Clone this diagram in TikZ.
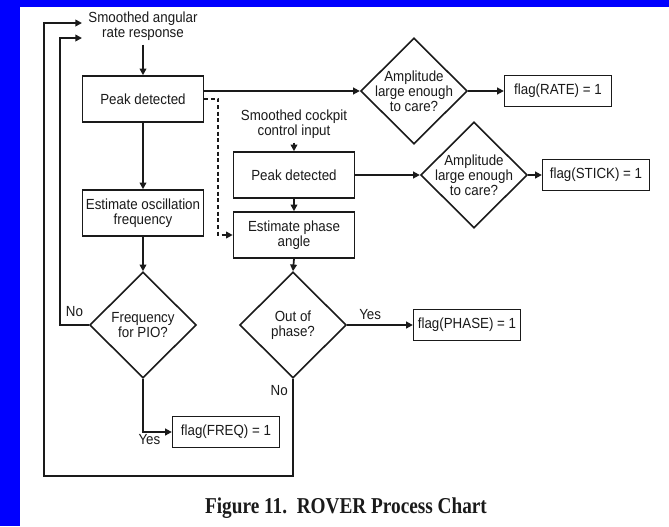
\documentclass[tikz,border=0pt]{standalone}
\usepackage{fontspec}
\setmainfont{Liberation Serif}
\setsansfont{Liberation Sans}[FakeStretch=0.91]
\newfontfamily\capfont{Liberation Serif}[FakeStretch=0.85]
\usepackage{xcolor}
\definecolor{roverBlue}{HTML}{0000FF}
\definecolor{roverInk}{HTML}{1A1A1A}
\usepackage{tikz}
\usetikzlibrary{arrows.meta, shapes.geometric, calc}

\begin{document}
\begin{tikzpicture}[
  x=0.75pt, y=-0.75pt,
  font=\sffamily\fontsize{11}{11.2}\selectfont,
  every node/.style = {text=roverInk},
  box/.style = {rectangle, draw=roverInk, line width=1.2pt,
                minimum width=90.75pt, minimum height=34.5pt,
                align=center, inner sep=2pt},
  flagbox/.style = {rectangle, draw=roverInk, line width=1.2pt,
                    minimum width=80pt, minimum height=23.25pt,
                    align=center, inner sep=1pt},
  decision/.style = {diamond, draw=roverInk, line width=1.2pt,
                     minimum width=80pt, minimum height=79.5pt,
                     inner sep=0pt},
  plain/.style = {align=center, inner sep=3pt},
  arrow/.style = {-{Triangle[length=5pt, width=5pt]},
                  line width=1.3pt, draw=roverInk},
  dasharrow/.style = {arrow, densely dashed, line width=1.4pt},
]
\useasboundingbox (0,0) rectangle (669,526);
\fill[roverBlue] (0,0) rectangle (669,526);
\fill[white] (20,7) rectangle (669,526);

% Angular rate branch
\node[plain] (srate) at (143,26) {Smoothed angular\\rate response};
\node[box] (pk1)  at (143,99)  {Peak detected};
\node[box] (est1) at (143,213) {Estimate oscillation\\frequency};
\node[decision, label={[align=center]center:Frequency\\for PIO?}]
      (freq) at (143,325) {};
\node[flagbox] (ffreq) at (226,432) {flag(FREQ) = 1};

% Amplitude check on rate
\node[decision, label={[align=center]center:Amplitude\\large enough\\to care?}]
      (amp1) at (414,91) {};
\node[flagbox] (frate) at (558,91) {flag(RATE) = 1};

% Cockpit input branch
\node[plain] (scock) at (294,124) {Smoothed cockpit\\control input};
\node[box] (pk2)  at (294,175) {Peak detected};
\node[box] (est2) at (294,235) {Estimate phase\\angle};
\node[decision, label={[align=center]center:Amplitude\\large enough\\to care?}]
      (amp2) at (474,175) {};
\node[flagbox] (fstick) at (596,175) {flag(STICK) = 1};
\node[decision, label={[align=center]center:Out of\\phase?}]
      (phase) at (293,325) {};
\node[flagbox] (fphase) at (467,325) {flag(PHASE) = 1};

% Caption
\node (capt) at (346,508)
      {\capfont\bfseries\fontsize{17}{18}\selectfont
       Figure 11.\ \ ROVER Process Chart};

% Loop coordinates
\coordinate (in1)   at (82,23);
\coordinate (in2)   at (82,38);
\coordinate (loopA) at (44,476);
\coordinate (loopB) at (60,38);

% Arrows
\draw[arrow] (srate.south) -- (pk1.north);
\draw[arrow] (pk1) -- (est1);
\draw[arrow] (est1) -- (freq.north);
\draw[arrow] (freq.west) -- node[above, yshift=2pt]{No} (freq.west -| loopB)
             -- (loopB) -- (in2);
\draw[arrow] (freq.south) |- node[pos=0.5, below right, inner sep=1pt,
             xshift=-5pt]{Yes} (ffreq.west);
\draw[arrow] (pk1.east |- amp1.west) -- (amp1.west);
\draw[arrow] (amp1.east) -- (frate.west);
\draw[dasharrow] (pk1.east) -- ++(14,0) |- (est2.west);
\draw[arrow] (scock.south) -- (pk2.north);
\draw[arrow] (pk2) -- (est2);
\draw[arrow] (pk2.east) -- (amp2.west);
\draw[arrow] (amp2.east) -- (fstick.west);
\draw[arrow] (est2.south) -- (phase.north);
\draw[arrow] (phase.east) -- node[above, pos=0.35]{Yes} (fphase.west);
\draw[arrow] (phase.south) |- node[pos=0.06, left]{No} (loopA) |- (in1);

\end{tikzpicture}
\end{document}
